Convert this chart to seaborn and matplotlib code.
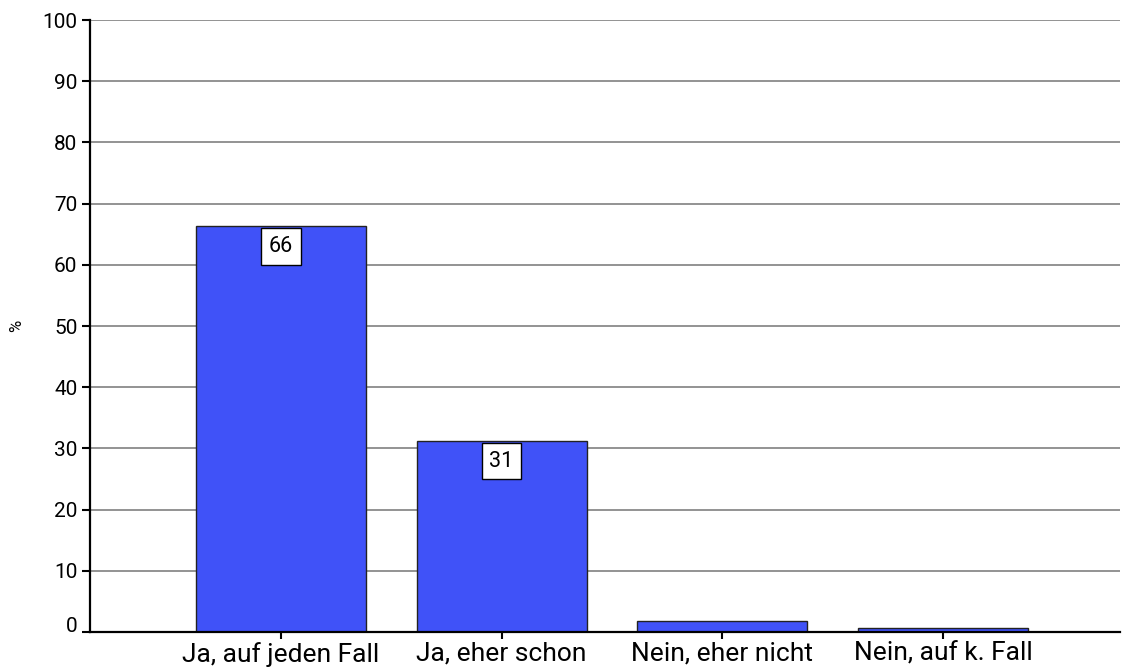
import matplotlib
matplotlib.use("Agg")
import matplotlib.pyplot as plt
import matplotlib.transforms as mtransforms
import seaborn as sns
import pandas as pd

# Survey answers and their share in percent
categories = ["Ja, auf jeden Fall", "Ja, eher schon", "Nein, eher nicht", "Nein, auf k. Fall"]
values = [66.3, 31.2, 1.8, 0.6]
y_ticks = [0, 10, 20, 30, 40, 50, 60, 70, 80, 90, 100]

sns.set_style("white")
font = ["Roboto", "DejaVu Sans"]
plt.rcParams["font.family"] = font
plt.rcParams["text.color"] = "black"

df = pd.DataFrame({"answer": categories, "pct": values})

fig = plt.figure(figsize=(11.23, 6.71), dpi=100)
ax = fig.add_axes([0.0801, 0.0581, 0.9172, 0.912])

ax.set_axisbelow(True)
ax.yaxis.grid(True, color="#808080", linewidth=1.2)
ax.xaxis.grid(False)

sns.barplot(data=df, x="answer", y="pct", color="#4052F8", saturation=1,
            width=0.77, edgecolor="#222222", linewidth=1.0, ax=ax)

# value boxes inside the taller bars
for i, v in enumerate(values):
    if v >= 5:
        ax.annotate(f"{v:.0f}", xy=(i, v), xytext=(0, -14.5), textcoords="offset points",
                    ha="center", va="center", fontsize=15.5, color="black", family=font,
                    bbox=dict(boxstyle="square,pad=0.36", facecolor="white",
                              edgecolor="black", linewidth=1.0))

ax.set_xlim(-0.864, 3.80)
ax.set_ylim(0, 100)
ax.set_yticks(y_ticks)
ax.set_yticklabels([str(t) for t in y_ticks], fontsize=15)
ax.tick_params(axis="y", left=True, direction="out", length=6, width=1.5,
               color="black", labelcolor="black", pad=3)
ax.tick_params(axis="x", bottom=True, direction="out", length=5, width=1.5,
               color="black", labelcolor="black", labelsize=19, pad=2)

# the zero label sits slightly above its tick
zero_lbl = ax.get_yticklabels()[0]
zero_lbl.set_transform(zero_lbl.get_transform() +
                       mtransforms.ScaledTranslation(0, 8 / 100, fig.dpi_scale_trans))

ax.set_xlabel("")
ax.set_ylabel("%", fontsize=12, color="black")
ax.yaxis.set_label_coords(-0.064, 0.5)

for side in ["top", "right"]:
    ax.spines[side].set_visible(False)
for side in ["left", "bottom"]:
    ax.spines[side].set_color("black")
    ax.spines[side].set_linewidth(1.6)

fig.savefig("out.png", dpi=100)
